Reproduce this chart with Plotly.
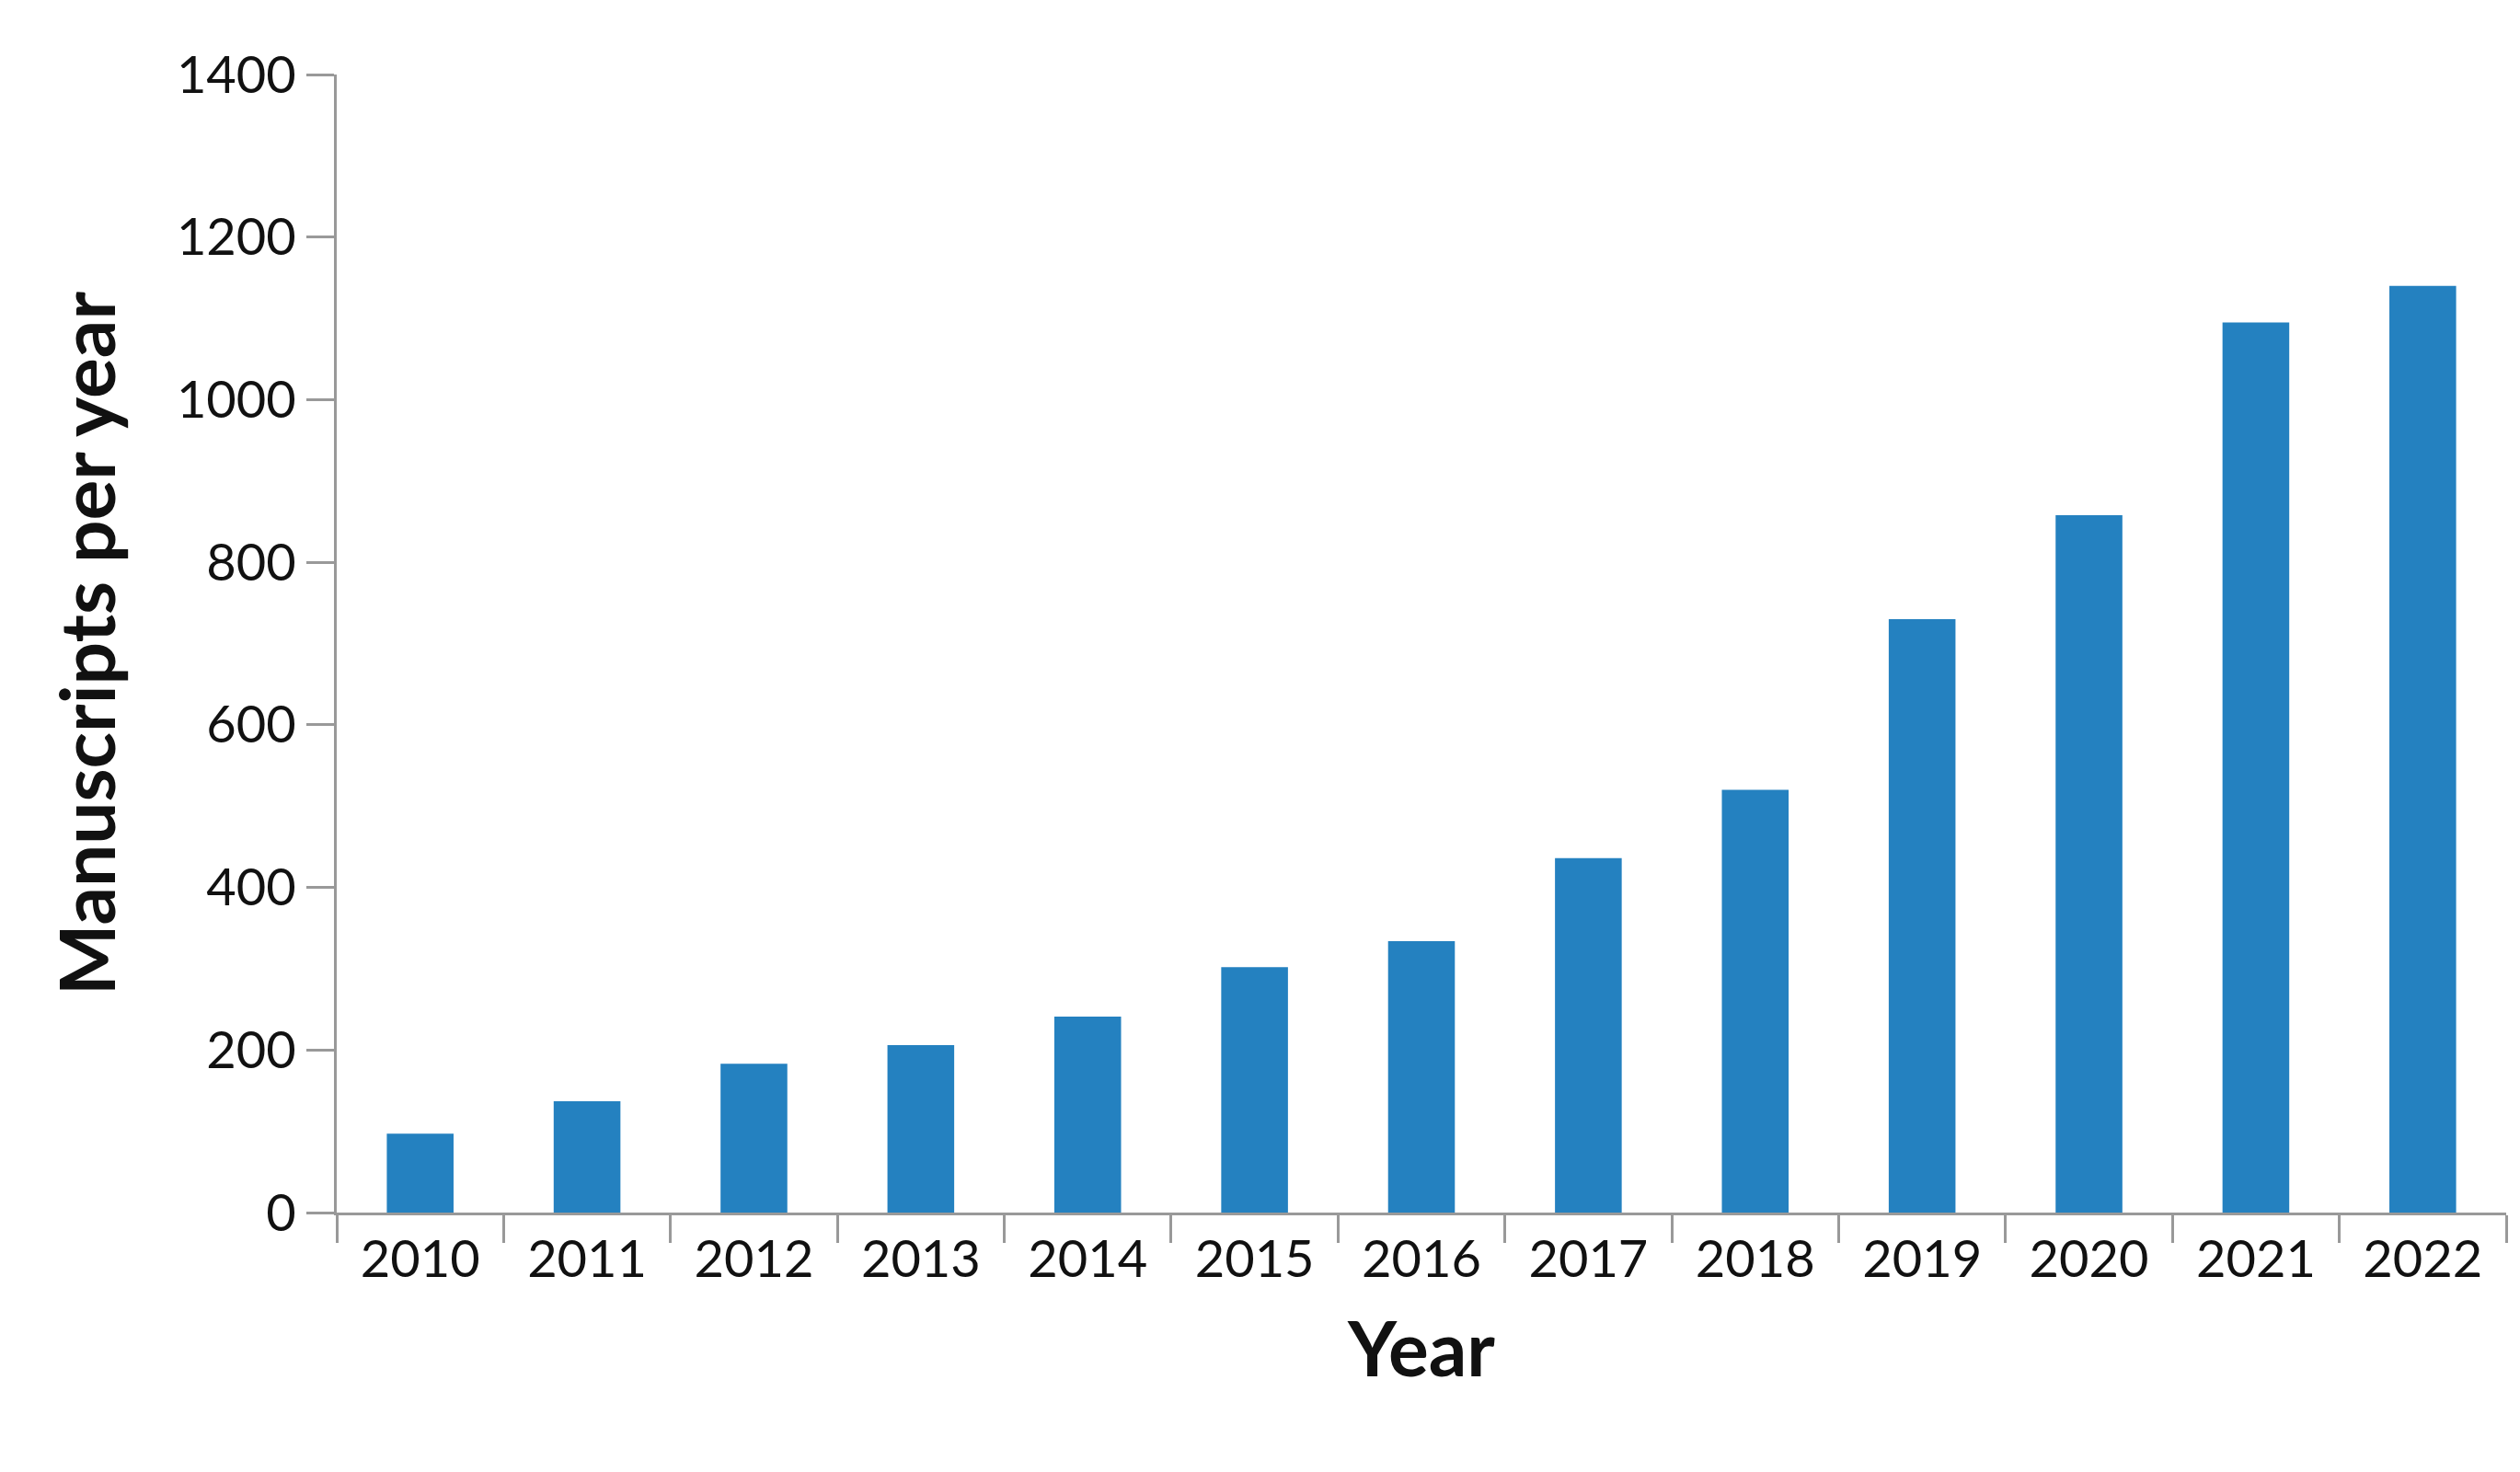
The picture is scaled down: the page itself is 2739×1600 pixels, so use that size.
import plotly.graph_objects as go

years = ["2010","2011","2012","2013","2014","2015","2016","2017","2018","2019","2020","2021","2022"]
manuscripts = [97, 137, 183, 206, 241, 302, 334, 436, 520, 730, 858, 1095, 1140]

fig = go.Figure(go.Bar(x=years, y=manuscripts, marker=dict(color="#2481C0", line=dict(width=0)), width=0.4))
font = "Lato, Open Sans, sans-serif"
fig.update_layout(
    width=2739, height=1600, plot_bgcolor="white", paper_bgcolor="white",
    margin=dict(l=358, r=23, t=73, b=290), showlegend=False,
    font=dict(family=font, color="#111"),
)
fig.update_xaxes(title=dict(text="<b>Year</b>", font=dict(size=82), standoff=40),
                 tickfont=dict(size=56), showline=True, linecolor="#999", linewidth=3,
                 ticks="outside", tickson="boundaries", ticklen=30, tickcolor="#999", tickwidth=3)
fig.update_yaxes(title=dict(text="<b>Manuscripts per year</b>", font=dict(size=82), standoff=40),
                 range=[0, 1400], dtick=200, tickfont=dict(size=56), showline=True, linecolor="#999",
                 linewidth=3, ticks="outside", ticklen=30, tickcolor="#999", tickwidth=3, showgrid=False)
fig.write_html("out.html")
